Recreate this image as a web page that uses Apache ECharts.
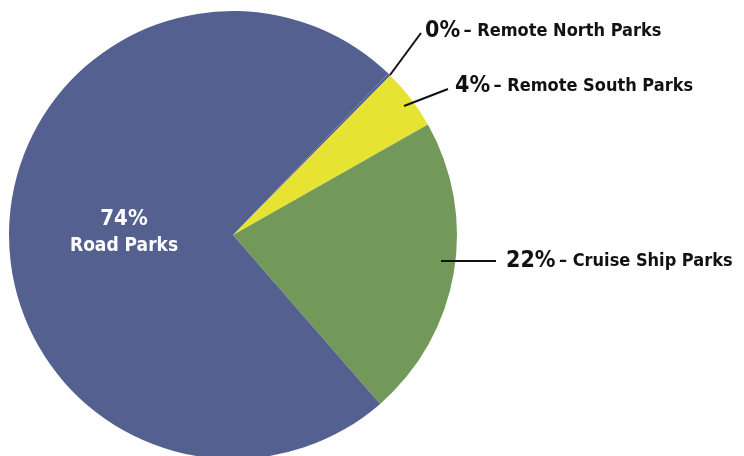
<!DOCTYPE html>
<html>
<head>
<meta charset="utf-8">
<script src="https://cdn.jsdelivr.net/npm/echarts@6/dist/echarts.min.js"></script>
<style>
  html, body { margin: 0; padding: 0; background: #fff; }
  #chart { width: 744px; height: 456px; }
</style>
</head>
<body>
<div id="chart"></div>
<script>
// park groups, share of the total (percent)
const parkNames = ["Remote North Parks", "Remote South Parks", "Cruise Ship Parks", "Road Parks"];
const parkShares = [0.2, 4.4, 21.8, 73.6];
const sliceColors = ["#54608f", "#e7e332", "#72995a", "#54608f"];

const FONT = "'DejaVu Sans Condensed', 'Liberation Sans Narrow', sans-serif";

var myChart = echarts.init(document.getElementById("chart"));

// where the outside labels sit and where their leader lines run
const outsideLabels = {
  0: { x: 425, y: 31, line: [[390, 75], [421, 33], [421, 33]] },
  1: { x: 455, y: 86, line: [[404, 106], [448, 89], [448, 89]] },
  2: { x: 506, y: 261, line: [[441, 261], [496, 261], [496, 261]] }
};

const pieBase = {
  type: "pie",
  silent: true,
  center: [233, 235],
  startAngle: 46.1,
  clockwise: true,
  avoidLabelOverlap: false
};

let option = {
  animation: false,
  series: [
    // the slices
    Object.assign({}, pieBase, {
      radius: 224,
      z: 2,
      itemStyle: { borderWidth: 0 },
      label: { show: false },
      labelLine: { show: false },
      data: parkNames.map(function (name, i) {
        return { name: name, value: parkShares[i], itemStyle: { color: sliceColors[i] } };
      })
    }),
    // same pie again, invisible and a bit smaller, so the leader lines start inside the slices
    Object.assign({}, pieBase, {
      radius: 212,
      z: 10,
      itemStyle: { color: "transparent", borderWidth: 0 },
      label: {
        show: true,
        position: "outside",
        fontFamily: FONT,
        color: "#111",
        formatter: function (p) {
          return "{pct|" + Math.round(p.value) + "%} {name|– " + p.name + "}";
        },
        rich: {
          pct: { fontFamily: FONT, fontWeight: "bold", fontSize: 23, color: "#111" },
          name: { fontFamily: FONT, fontWeight: "bold", fontSize: 18, color: "#111" }
        }
      },
      labelLine: {
        show: true,
        length: 20,
        length2: 10,
        lineStyle: { color: "#111", width: 2 }
      },
      labelLayout: function (params) {
        const o = outsideLabels[params.dataIndex];
        if (!o) return {};
        return {
          x: o.x,
          y: o.y,
          align: "left",
          verticalAlign: "middle",
          labelLinePoints: o.line
        };
      },
      data: parkNames.map(function (name, i) {
        const item = { name: name, value: parkShares[i] };
        if (name === "Road Parks") {
          item.label = {
            position: "inside",
            formatter: function (p) {
              return "{pct|" + Math.round(p.value) + "%}\n{name|" + p.name + "}";
            },
            rich: {
              pct: { fontFamily: FONT, fontWeight: "bold", fontSize: 22, color: "#fff", lineHeight: 28, align: "center" },
              name: { fontFamily: FONT, fontWeight: "bold", fontSize: 19, color: "#fff", lineHeight: 26, align: "center" }
            }
          };
          item.labelLine = { show: false };
        }
        return item;
      })
    })
  ]
};

myChart.setOption(option);
</script>
</body>
</html>
